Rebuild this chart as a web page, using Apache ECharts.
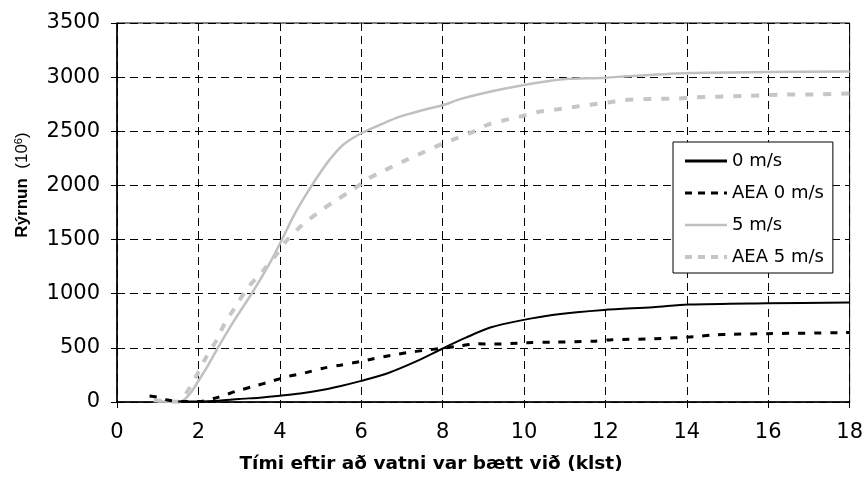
<!DOCTYPE html>
<html>
<head>
<meta charset="utf-8">
<script src="https://cdn.jsdelivr.net/npm/echarts@6/dist/echarts.min.js"></script>
<style>
  html, body { margin: 0; padding: 0; background: #fff; }
  #chart { width: 866px; height: 478px; }
</style>
</head>
<body>
<div id="chart"></div>
<script>
// Rýrnun over time after water was added, with and without AEA, at 0 and 5 m/s
const seriesNames = ['0 m/s', 'AEA 0 m/s', '5 m/s', 'AEA 5 m/s'];
const xTicks = [0, 2, 4, 6, 8, 10, 12, 14, 16, 18];
const yTicks = [0, 500, 1000, 1500, 2000, 2500, 3000, 3500];

// 0 m/s
const t0 = [1.5, 2, 2.5, 3, 3.5, 4, 4.5, 5, 5.5, 6, 6.65, 7.35, 8, 8.57, 9.17, 9.96, 10.74, 11.96, 13.17, 14.04, 15.96, 18];
const r0 = [5, 5, 12, 28, 40, 58, 78, 108, 148, 195, 266, 375, 494, 594, 688, 756, 806, 850, 875, 900, 912, 919];

// AEA 0 m/s
const tA0 = [0.8, 1.0, 1.25, 1.5, 2.0, 2.5, 2.93, 3.36, 3.79, 4.2, 4.6, 5.06, 5.48, 6, 6.3, 6.74, 7.13, 7.57, 7.96, 8.39, 8.83, 9.26, 10.04, 10.74, 11.7, 12.17, 13.17, 14.2, 14.65, 15.09, 15.96, 17.87, 18];
const rA0 = [55, 45, 18, 6, 5, 45, 100, 145, 191, 236, 267, 312, 340, 375, 400, 431, 456, 478, 494, 516, 537, 535, 547, 553, 562, 575, 584, 603, 619, 625, 631, 641, 642];

// 5 m/s
const t5 = [1.0, 1.3, 1.55, 1.8, 2.0, 2.2, 2.44, 2.85, 3.34, 3.75, 4.04, 4.35, 4.64, 4.93, 5.22, 5.55, 6.0, 6.45, 6.95, 7.52, 8.06, 8.45, 9.27, 10, 10.9, 12, 12.55, 14.07, 16, 18];
const r5 = [8, 3, 2, 80, 195, 315, 475, 735, 1020, 1280, 1490, 1725, 1912, 2083, 2236, 2374, 2482, 2558, 2635, 2696, 2748, 2799, 2874, 2928, 2979, 2995, 3009, 3038, 3047, 3052];

// AEA 5 m/s
const tA5 = [0.9, 1.2, 1.5, 1.75, 1.98, 2.19, 2.44, 2.64, 2.89, 3.22, 3.59, 3.92, 4.16, 4.56, 4.93, 5.34, 5.79, 6.2, 6.6, 7.03, 7.48, 7.93, 8.35, 8.76, 9.1, 9.55, 9.96, 10.37, 10.78, 11.22, 11.63, 12.1, 12.46, 12.95, 13.76, 14.16, 15.4, 16.35, 17.2, 18];
const rA5 = [15, 8, 2, 110, 261, 414, 567, 721, 868, 1058, 1212, 1365, 1488, 1638, 1745, 1853, 1960, 2068, 2144, 2221, 2298, 2374, 2436, 2497, 2560, 2605, 2641, 2680, 2700, 2725, 2745, 2769, 2788, 2797, 2803, 2812, 2826, 2838, 2840, 2850];

const pairs = (xs, ys) => xs.map((x, i) => [x, ys[i]]);

// line look of each series, shared by the plot and its legend
const looks = [
  { color: '#000', width: 2, type: 'solid' },
  { color: '#000', width: 3, type: [7, 9] },
  { color: '#c0c0c0', width: 2.5, type: 'solid' },
  { color: '#c6c6c6', width: 4, type: [8, 10] }
];
const legendLooks = [
  { color: '#000', width: 3, type: 'solid' },
  { color: '#000', width: 3, type: [7, 6] },
  { color: '#c0c0c0', width: 2.5, type: 'solid' },
  { color: '#c6c6c6', width: 4, type: [7, 6] }
];

const tickFont = { fontFamily: 'DejaVu Sans', fontSize: 21, color: '#000', formatter: v => String(v) };
const gridDash = { color: '#000', width: 1, type: [8, 5] };

const chart = echarts.init(document.getElementById('chart'), null, { renderer: 'canvas' });

const makeSeries = (i, xs, ys, z) => ({
  name: seriesNames[i], type: 'line', data: pairs(xs, ys),
  showSymbol: false, symbol: 'none', smooth: 0.3,
  lineStyle: looks[i], itemStyle: { color: looks[i].color }, z: z
});

chart.setOption({
  animation: false,
  backgroundColor: '#fff',
  grid: {
    left: 117, right: 14, top: 23, bottom: 76,
    show: true, borderColor: '#000', borderWidth: 1, backgroundColor: 'transparent'
  },
  xAxis: {
    type: 'value', min: xTicks[0], max: xTicks[xTicks.length - 1], interval: 2,
    axisLine: { lineStyle: { color: '#000', width: 1.5 } },
    axisTick: { show: true, length: 6, lineStyle: { color: '#000', width: 1 } },
    axisLabel: Object.assign({ margin: 20 }, tickFont),
    splitLine: { show: true, lineStyle: gridDash }
  },
  yAxis: {
    type: 'value', min: yTicks[0], max: yTicks[yTicks.length - 1], interval: 500,
    axisLine: { show: true, lineStyle: { color: '#000', width: 1.5 } },
    axisTick: { show: true, length: 6, lineStyle: { color: '#000', width: 1 } },
    axisLabel: Object.assign({ margin: 17 }, tickFont),
    splitLine: { show: true, lineStyle: gridDash }
  },
  legend: {
    orient: 'vertical', left: 673, top: 142,
    padding: [9, 9, 6, 10],
    itemWidth: 42, itemHeight: 14, itemGap: 12,
    backgroundColor: '#fff', borderColor: '#000', borderWidth: 1,
    itemStyle: { opacity: 0 },
    textStyle: { fontFamily: 'DejaVu Sans', fontSize: 18, color: '#000', lineHeight: 20 },
    data: seriesNames.map((n, i) => ({ name: n, lineStyle: legendLooks[i], itemStyle: { opacity: 0 } }))
  },
  graphic: [
    {
      type: 'text', x: 431, y: 464,
      style: {
        text: 'Tími eftir að vatni var bætt við (klst)',
        fontFamily: 'DejaVu Sans', fontSize: 18.5, fontWeight: 'bold', fill: '#000',
        align: 'center', verticalAlign: 'middle'
      }
    },
    {
      type: 'text', x: 22, y: 185, rotation: Math.PI / 2,
      style: {
        text: '{b|Rýrnun}{r|  (10}{s|6}{r|)}',
        align: 'center', verticalAlign: 'middle',
        rich: {
          b: { fontFamily: 'Liberation Sans', fontSize: 17, fontWeight: 'bold', fill: '#000', verticalAlign: 'bottom' },
          r: { fontFamily: 'Liberation Sans', fontSize: 17, fill: '#000', verticalAlign: 'bottom' },
          s: { fontFamily: 'Liberation Sans', fontSize: 11, fill: '#000', verticalAlign: 'top' }
        }
      }
    }
  ],
  series: [
    makeSeries(2, t5, r5, 2),
    makeSeries(3, tA5, rA5, 2),
    makeSeries(0, t0, r0, 3),
    makeSeries(1, tA0, rA0, 3)
  ]
});
</script>
</body>
</html>
